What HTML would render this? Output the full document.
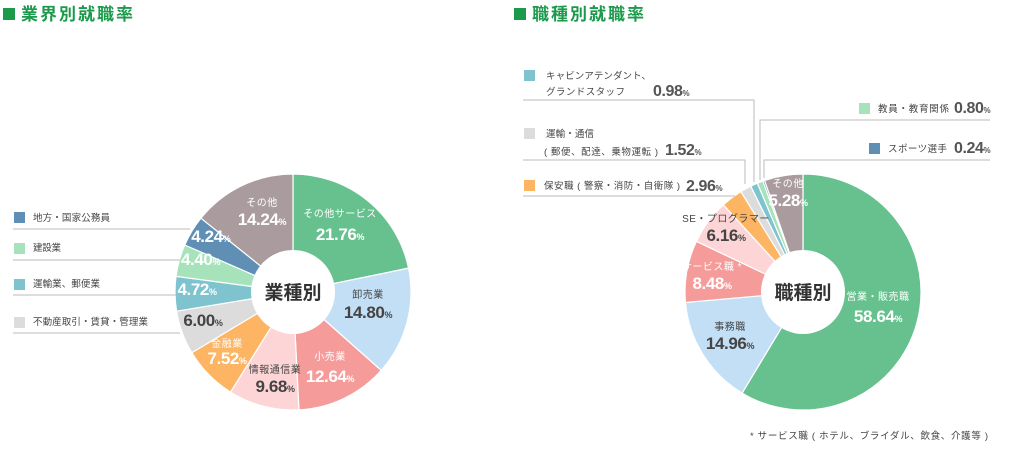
<!DOCTYPE html>
<html><head><meta charset="utf-8"><style>
body{margin:0;background:#fff;width:1022px;height:453px;overflow:hidden;font-family:"Liberation Sans","Noto Sans CJK JP",sans-serif;}
svg text{font-family:"Liberation Sans","Noto Sans CJK JP",sans-serif;}
.num{letter-spacing:-0.4px;}
</style></head><body>
<svg id="c" width="1022" height="453" viewBox="0 0 1022 453">
<g><rect x="3" y="8" width="12" height="12" fill="#1a9a4a"/><text x="21" y="20" font-size="17" font-weight="bold" fill="#1a9a4a" letter-spacing="2">業界別就職率</text></g>
<g><rect x="514" y="8" width="12" height="12" fill="#1a9a4a"/><text x="532" y="20" font-size="17" font-weight="bold" fill="#1a9a4a" letter-spacing="2">職種別就職率</text></g>
<g id="left"></g>
<g id="right"></g>
<g font-size="9.5" fill="#444" stroke-width="1">
<rect x="14" y="212" width="11" height="11" fill="#5f8fb4"/><text x="33" y="221" textLength="77" lengthAdjust="spacing">地方・国家公務員</text><polyline points="13,229 190,229" stroke="#bbb" fill="none"/>
<rect x="14" y="243" width="11" height="11" fill="#a6e3bb"/><text x="33" y="251" textLength="28" lengthAdjust="spacing">建設業</text><polyline points="13,260 180,260" stroke="#bbb" fill="none"/>
<rect x="14" y="279" width="11" height="11" fill="#7fc3cf"/><text x="33" y="287" textLength="67" lengthAdjust="spacing">運輸業、郵便業</text><polyline points="13,295 176,295" stroke="#bbb" fill="none"/>
<rect x="14" y="317" width="11" height="11" fill="#dcdcdc"/><text x="33" y="325" textLength="115" lengthAdjust="spacing">不動産取引・賃貸・管理業</text><polyline points="13,333 180,333" stroke="#bbb" fill="none"/>
</g>
<g font-size="9.5" fill="#444">
<text x="546" y="79" textLength="105" lengthAdjust="spacing">キャビンアテンダント、</text><text x="546" y="95" textLength="79" lengthAdjust="spacing">グランドスタッフ</text>
<text x="546" y="137" textLength="48" lengthAdjust="spacing">運輸・通信</text><text x="544" y="155" textLength="114" lengthAdjust="spacing">( 郵便、配達、乗物運転 )</text>
<text x="544" y="189" textLength="136" lengthAdjust="spacing">保安職 ( 警察・消防・自衛隊 )</text>
<text x="878" y="112" textLength="71" lengthAdjust="spacing">教員・教育関係</text>
<text x="888" y="152" textLength="59" lengthAdjust="spacing">スポーツ選手</text>
<rect x="524" y="70" width="11" height="11" fill="#7fc3cf"/><text class="num" x="653" y="96" font-size="16" font-weight="bold" fill="#555">0.98<tspan font-size="8">%</tspan></text>
<polyline points="523,100 754,100 754,182" stroke="#bbb" fill="none"/>
<rect x="524" y="128" width="11" height="11" fill="#dcdcdc"/><text class="num" x="665" y="155" font-size="16" font-weight="bold" fill="#555">1.52<tspan font-size="8">%</tspan></text>
<polyline points="523,160 745,160 745,184" stroke="#bbb" fill="none"/>
<rect x="524" y="180" width="11" height="11" fill="#fdb463"/><text class="num" x="686" y="191" font-size="16" font-weight="bold" fill="#555">2.96<tspan font-size="8">%</tspan></text>
<polyline points="523,196 735,196" stroke="#bbb" fill="none"/>
<rect x="859" y="103" width="11" height="11" fill="#a6e3bb"/><text class="num" x="954" y="113" font-size="16" font-weight="bold" fill="#555">0.80<tspan font-size="8">%</tspan></text>
<polyline points="760,180 760,120 990,120" stroke="#bbb" fill="none"/>
<rect x="869" y="143" width="11" height="11" fill="#5f8fb4"/><text class="num" x="954" y="153" font-size="16" font-weight="bold" fill="#555">0.24<tspan font-size="8">%</tspan></text>
<polyline points="764,178 764,160 990,160" stroke="#bbb" fill="none"/>
</g>
<text x="750" y="439" textLength="238" lengthAdjust="spacing" font-size="9.5" fill="#444">* サービス職 ( ホテル、ブライダル、飲食、介護等 )</text>
</svg>
<script>
const leftNames=["その他サービス","卸売業","小売業","情報通信業","金融業","不動産取引・賃貸・管理業","運輸業、郵便業","建設業","地方・国家公務員","その他"];
const leftValues=[21.76,14.80,12.64,9.68,7.52,6.00,4.72,4.40,4.24,14.24];
const leftLabels=["その他サービス","卸売業","小売業","情報通信業","金融業","","","","","その他"];
const rightNames=["営業・販売職","事務職","サービス職","SE・プログラマー","保安職","運輸・通信","キャビンアテンダント","教員・教育関係","スポーツ選手","その他"];
const rightValues=[58.64,14.96,8.48,6.16,2.96,1.52,0.98,0.80,0.24,5.28];
const rightLabels=["営業・販売職","事務職","サービス職 *","SE・プログラマー","","","","","","その他"];
const leftColors=["#66c18e","#c2dff5","#f59c9b","#fdd5d6","#fdb463","#dcdcdc","#7fc3cf","#a6e3bb","#5f8fb4","#aa9c9e"];
const rightColors=["#66c18e","#c2dff5","#f59c9b","#fdd5d6","#fdb463","#dcdcdc","#7fc3cf","#a6e3bb","#5f8fb4","#aa9c9e"];
const leftText=["#fff","#444","#fff","#444","#fff","#444","#fff","#fff","#fff","#fff"];
const rightText=["#fff","#444","#fff","#444","#fff","#fff","#fff","#fff","#fff","#fff"];
const leftPos=[[340,217,240],[368,298,318],[330,360,382],[275,373,392],[227,347,364],[null,null,326],[null,null,295],[null,null,265],[null,null,242],[262,206,225]];
const rightPos=[[878,300,322],[730,330,349],[712,270,289],[726,222,241],[null,null,null],[null,null,null],[null,null,null],[null,null,null],[null,null,null],[788,187,206]];
const NS="http://www.w3.org/2000/svg";
function mk(t,a,p){const e=document.createElementNS(NS,t);for(const k in a)e.setAttribute(k,a[k]);p.appendChild(e);return e;}
function donut(g,cx,cy,R,r,vals,cols,names,labels,pos,tcol,center){
  const tot=vals.reduce((a,b)=>a+b,0);let a0=0;const later=[];
  vals.forEach((v,i)=>{
    const a1=a0+v/tot*2*Math.PI;
    const p=(a,rr)=>[cx+rr*Math.sin(a),cy-rr*Math.cos(a)];
    const [x0,y0]=p(a0,R),[x1,y1]=p(a1,R);const lg=(a1-a0)>Math.PI?1:0;
    const path=mk("path",{d:`M${cx},${cy}L${x0},${y0}A${R},${R} 0 ${lg} 1 ${x1},${y1}Z`,fill:cols[i],stroke:"#fff","stroke-width":"1.2"},g);
    
    
    later.push([i,v,a0,a1]);
    a0=a1;
  });
  later.forEach(([i,v,a0,a1])=>{
    const ps=pos[i];
    if(labels[i]&&ps[0]!==null){const t=mk("text",{x:ps[0],y:ps[1],"text-anchor":"middle","font-size":"10","letter-spacing":"0.5",fill:tcol[i]},g);t.textContent=labels[i];
      }
    if(ps[2]!==null){const x=ps[0]!==null?ps[0]:cx+(R-22)*Math.sin((a0+a1)/2);
      const t=mk("text",{x:x,y:ps[2],"text-anchor":"middle","font-size":"17","font-weight":"bold",fill:tcol[i],"class":"num"},g);
      t.textContent=v.toFixed(2);const s=mk("tspan",{"font-size":"9"},t);s.textContent="%";
      }
  });
  const c=mk("circle",{cx:cx,cy:cy,r:r,fill:"#fff"},g);
  
  const t=mk("text",{x:cx,y:cy+7,"text-anchor":"middle","font-size":"19","font-weight":"bold",fill:"#333"},g);t.textContent=center;
  
}
donut(document.getElementById("left"),293,292,118,42,leftValues,leftColors,leftNames,leftLabels,leftPos,leftText,"業種別");
donut(document.getElementById("right"),803,292,118,42,rightValues,rightColors,rightNames,rightLabels,rightPos,rightText,"職種別");
</script>
</body></html>
